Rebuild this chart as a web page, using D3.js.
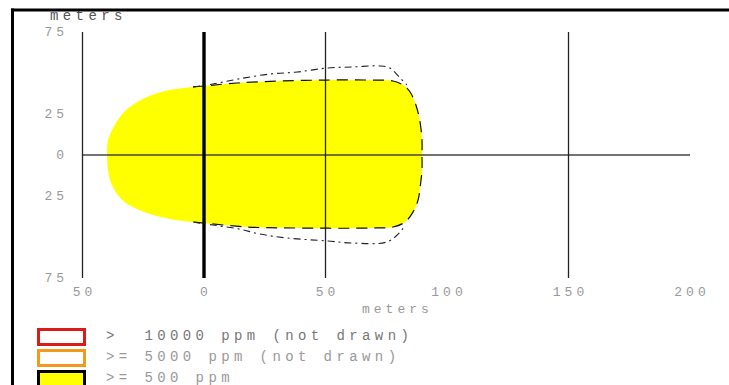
<!DOCTYPE html>
<html>
<head>
<meta charset="utf-8">
<script src="https://cdn.jsdelivr.net/npm/d3@7"></script>
<style>
  body { margin: 0; background: #fff; }
  text { font-family: "Liberation Mono", "DejaVu Sans Mono", monospace; white-space: pre; }
</style>
</head>
<body>
<div id="chart"></div>
<script>
// footprint of the >= 500 ppm zone, meters downwind (x) and crosswind (y)
const zoneUpper = [[-39.9,0],[-39.5,9.1],[-37.4,16.5],[-34.6,23.2],[-30.5,29.3],[-23.5,35.4],[-14,39.6],
  [-4.5,41.5],[0,42.1],[13.6,43.9],[31.3,45.1],[50.2,45.7],[68.3,45.7],[77.8,45.1],[81.9,42.7],
  [84.8,38.4],[87.2,30.5],[88.9,20.1],[89.7,9.1],[89.7,0]];
const zoneLower = [[89.7,0],[89.7,-9.1],[88.9,-20.1],[88.1,-27.4],[86,-34.8],[82.7,-40.9],[77.8,-43.9],
  [69.5,-44.5],[36.6,-44.5],[17.7,-43.9],[0,-41.5],[-4.5,-40.9],[-14,-39],[-22.2,-36],[-28.4,-32.3],
  [-33.7,-27.4],[-37.9,-18.3],[-39.5,-9.1],[-39.9,0]];
// wind direction confidence lines
const confUpper = [[-4.5,41.5],[3.7,43.3],[14,46.3],[27.2,49.4],[38.3,50.6],[50.6,53],[61.3,53.7],
  [72.4,54.3],[76.5,53],[80.7,47],[83.5,42.7]];
const confLower = [[-4.5,-40.9],[3.7,-42.7],[14,-45],[23,-48.2],[34.2,-50.6],[50.6,-52.4],[61.3,-53.7],
  [75.3,-53],[80.7,-47],[82.7,-42.7]];

const xTicks = [-50, 0, 50, 100, 150, 200];
const xTickLabels = ["50", "0", "50", "100", "150", "200"];
const yTicks = [75, 25, 0, -25, -75];
const yTickLabels = ["75", "25", "0", "25", "75"];
const gridX = [-50, 0, 50, 150];
const legendLabels = [">  10000 ppm (not drawn)", ">= 5000 ppm (not drawn)", ">= 500 ppm"];
const legendStroke = ["#dd1a1a", "#f39a1e", "#000"];
const legendFill = ["#fff", "#fff", "#ffff00"];

const width = 729, height = 385;

const x = d3.scaleLinear().domain([-50, 200]).range([82.5, 690]);
const y = d3.scaleLinear().domain([-75, 75]).range([278, 32]);

const svg = d3.select("#chart").append("svg")
    .attr("width", width)
    .attr("height", height);

const line = d3.line()
    .x(d => x(d[0]))
    .y(d => y(d[1]))
    .curve(d3.curveCatmullRom);

// yellow zone
svg.append("path")
    .attr("d", line(zoneUpper) + line(zoneLower).replace(/^M[^C]*/, "L" + x(89.7) + "," + y(0)) + "Z")
    .attr("fill", "#ffff00")
    .attr("stroke", "none");

// grid
svg.append("line")
    .attr("x1", x(-50)).attr("x2", x(200))
    .attr("y1", y(0)).attr("y2", y(0))
    .attr("stroke", "#444").attr("stroke-width", 1.3);

svg.selectAll(".vgrid")
    .data(gridX)
    .join("line")
        .attr("class", "vgrid")
        .attr("x1", d => x(d)).attr("x2", d => x(d))
        .attr("y1", y(75)).attr("y2", y(-75))
        .attr("stroke", d => d === 0 ? "#000" : "#222")
        .attr("stroke-width", d => d === 0 ? 3.4 : 1.3);

// dashed edge of the zone and dash-dot confidence lines
const zoneEdge = zoneUpper.filter(d => d[0] >= -5).concat(zoneLower.slice(1).filter(d => d[0] >= -5));
svg.append("path")
    .attr("d", line(zoneEdge))
    .attr("fill", "none")
    .attr("stroke", "#111")
    .attr("stroke-width", 1.2)
    .attr("stroke-dasharray", "11,7");

[confUpper, confLower].forEach(c => {
    svg.append("path")
        .attr("d", line(c))
        .attr("fill", "none")
        .attr("stroke", "#222")
        .attr("stroke-width", 1.1)
        .attr("stroke-dasharray", "7,4,2,4");
});

// tick labels
svg.selectAll(".xlab")
    .data(xTicks)
    .join("text")
        .attr("class", "xlab")
        .attr("x", d => x(d) + 2)
        .attr("y", 296)
        .attr("text-anchor", "middle")
        .attr("font-size", 13)
        .attr("letter-spacing", 4)
        .attr("fill", "#999")
        .text((d, i) => xTickLabels[i]);

svg.selectAll(".ylab")
    .data(yTicks)
    .join("text")
        .attr("class", "ylab")
        .attr("x", 68)
        .attr("y", d => y(d) + 4)
        .attr("text-anchor", "end")
        .attr("font-size", 13)
        .attr("letter-spacing", 4)
        .attr("fill", "#999")
        .text((d, i) => yTickLabels[i]);

svg.append("text")
    .attr("x", 362).attr("y", 313)
    .attr("font-size", 13).attr("letter-spacing", 4)
    .attr("fill", "#999")
    .text("meters");

svg.append("text")
    .attr("x", 50).attr("y", 20)
    .attr("font-size", 14).attr("letter-spacing", 4.4)
    .attr("fill", "#555")
    .text("meters");

// legend
const legend = svg.append("g");
legend.selectAll("rect")
    .data(legendLabels)
    .join("rect")
        .attr("x", 38.5)
        .attr("y", (d, i) => 329.5 + i * 21)
        .attr("width", 46)
        .attr("height", 15)
        .attr("fill", (d, i) => legendFill[i])
        .attr("stroke", (d, i) => legendStroke[i])
        .attr("stroke-width", 3);

legend.selectAll("text")
    .data(legendLabels)
    .join("text")
        .attr("x", 106)
        .attr("y", (d, i) => 340 + i * 21)
        .attr("font-size", 14)
        .attr("letter-spacing", 4.4)
        .attr("fill", (d, i) => i === 0 ? "#777" : "#999")
        .text(d => d);

// frame
svg.append("line")
    .attr("x1", 11).attr("x2", width)
    .attr("y1", 10).attr("y2", 10)
    .attr("stroke", "#000").attr("stroke-width", 3);
svg.append("line")
    .attr("x1", 12.5).attr("x2", 12.5)
    .attr("y1", 8.5).attr("y2", height)
    .attr("stroke", "#000").attr("stroke-width", 3);
</script>
</body>
</html>
